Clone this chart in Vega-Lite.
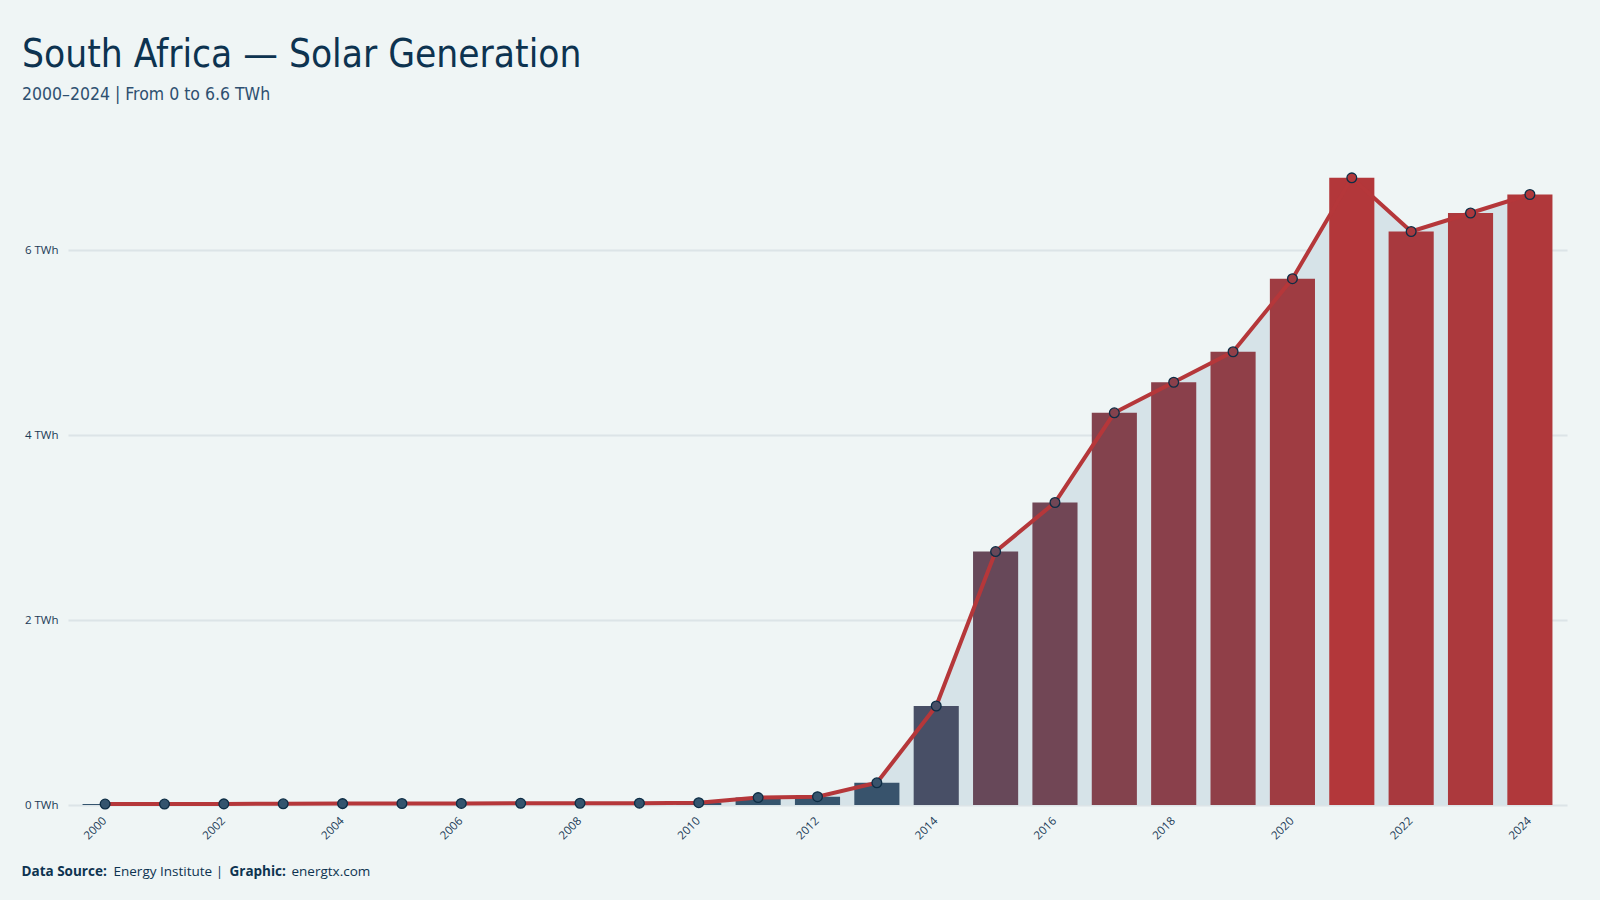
{
  "$schema": "https://vega.github.io/schema/vega-lite/v6.json",
  "width": 1499,
  "height": 666,
  "autosize": {"type": "none"},
  "padding": {"left": 68, "top": 139, "right": 33, "bottom": 95},
  "background": "#eff5f5",
  "title": {
    "text": "South Africa — Solar Generation",
    "subtitle": "2000–2024 | From 0 to 6.6 TWh",
    "anchor": "start",
    "frame": "group",
    "dx": -46,
    "offset": 35,
    "font": "DejaVu Sans Condensed, Liberation Sans Narrow, DejaVu Sans",
    "fontSize": 38.5,
    "fontWeight": "normal",
    "color": "#0d3350",
    "subtitleFont": "DejaVu Sans Condensed, Liberation Sans Narrow, DejaVu Sans",
    "subtitleFontSize": 17.5,
    "subtitleColor": "#2e5070",
    "subtitlePadding": 10
  },
  "config": {
    "view": {"stroke": null},
    "axis": {"labelFont": "Open Sans", "labelColor": "#1a3a55", "labelFontSize": 11.5}
  },
  "data": {
    "values": [
      {"year": 2000, "twh": 0.01},
      {"year": 2001, "twh": 0.01},
      {"year": 2002, "twh": 0.012},
      {"year": 2003, "twh": 0.013},
      {"year": 2004, "twh": 0.015},
      {"year": 2005, "twh": 0.016},
      {"year": 2006, "twh": 0.017},
      {"year": 2007, "twh": 0.018},
      {"year": 2008, "twh": 0.019},
      {"year": 2009, "twh": 0.02},
      {"year": 2010, "twh": 0.025},
      {"year": 2011, "twh": 0.08},
      {"year": 2012, "twh": 0.09},
      {"year": 2013, "twh": 0.24},
      {"year": 2014, "twh": 1.07},
      {"year": 2015, "twh": 2.74},
      {"year": 2016, "twh": 3.27},
      {"year": 2017, "twh": 4.24},
      {"year": 2018, "twh": 4.57},
      {"year": 2019, "twh": 4.9},
      {"year": 2020, "twh": 5.69},
      {"year": 2021, "twh": 6.78},
      {"year": 2022, "twh": 6.2},
      {"year": 2023, "twh": 6.4},
      {"year": 2024, "twh": 6.6}
    ]
  },
  "resolve": {"axis": {"x": "independent", "y": "independent"}},
  "layer": [
    {
      "mark": {"type": "area", "color": "#d6e3e8"},
      "encoding": {
        "x": {
          "field": "year",
          "type": "ordinal",
          "scale": {"paddingInner": 0.24, "paddingOuter": 0.245},
          "axis": {
            "values": [2000, 2002, 2004, 2006, 2008, 2010, 2012, 2014, 2016, 2018, 2020, 2022, 2024],
            "labelAngle": -45,
            "labelAlign": "right",
            "labelBaseline": "middle",
            "labelPadding": 14,
            "domain": false,
            "ticks": false,
            "grid": false,
            "title": "Data Source:",
            "titleFont": "Open Sans",
            "titleFontSize": 13.5,
            "titleFontWeight": "bold",
            "titleColor": "#0d3350",
            "titleAnchor": "start",
            "titleAlign": "left",
            "titleBaseline": "alphabetic",
            "titleX": -47,
            "titleY": 70
          }
        },
        "y": {
          "field": "twh",
          "type": "quantitative",
          "scale": {"domain": [0, 7.2], "nice": false},
          "axis": {
            "values": [0, 2, 4, 6],
            "labelExpr": "datum.value + ' TWh'",
            "grid": true,
            "gridColor": "#dce4e7",
            "gridWidth": 2,
            "domain": false,
            "ticks": false,
            "labelPadding": 10,
            "title": "Energy Institute |",
            "titleFont": "Open Sans",
            "titleFontSize": 13.5,
            "titleFontWeight": "normal",
            "titleColor": "#0d3350",
            "titleAngle": 0,
            "titleAnchor": "start",
            "titleAlign": "left",
            "titleBaseline": "alphabetic",
            "titleX": 45,
            "titleY": 736
          }
        }
      }
    },
    {
      "mark": {"type": "bar"},
      "encoding": {
        "x": {
          "field": "year",
          "type": "ordinal",
          "axis": {
            "orient": "top",
            "labels": false,
            "domain": false,
            "ticks": false,
            "grid": false,
            "title": "Graphic:",
            "titleFont": "Open Sans",
            "titleFontSize": 13.5,
            "titleFontWeight": "bold",
            "titleColor": "#0d3350",
            "titleAnchor": "start",
            "titleAlign": "left",
            "titleBaseline": "alphabetic",
            "titleX": 161,
            "titleY": 736
          }
        },
        "y": {
          "field": "twh",
          "type": "quantitative",
          "axis": {
            "orient": "right",
            "labels": false,
            "domain": false,
            "ticks": false,
            "grid": false,
            "title": "energtx.com",
            "titleFont": "Open Sans",
            "titleFontSize": 13.5,
            "titleFontWeight": "normal",
            "titleColor": "#0d3350",
            "titleAngle": 0,
            "titleAnchor": "start",
            "titleAlign": "left",
            "titleBaseline": "alphabetic",
            "titleX": -1276,
            "titleY": 736
          }
        },
        "color": {
          "field": "twh",
          "type": "quantitative",
          "scale": {"domain": [0, 6.78], "range": ["#34546e", "#b3373a"], "interpolate": "rgb"},
          "legend": null
        }
      }
    },
    {
      "mark": {"type": "line", "color": "#b5373a", "strokeWidth": 4},
      "encoding": {
        "x": {"field": "year", "type": "ordinal", "axis": null},
        "y": {"field": "twh", "type": "quantitative", "axis": null}
      }
    },
    {
      "mark": {"type": "point", "filled": true, "size": 95, "stroke": "#0d2d45", "strokeWidth": 1.3, "opacity": 1},
      "encoding": {
        "x": {"field": "year", "type": "ordinal", "axis": null},
        "y": {"field": "twh", "type": "quantitative", "axis": null},
        "color": {
          "field": "twh",
          "type": "quantitative",
          "scale": {"domain": [0, 6.78], "range": ["#34546e", "#b3373a"], "interpolate": "rgb"},
          "legend": null
        }
      }
    }
  ]
}
